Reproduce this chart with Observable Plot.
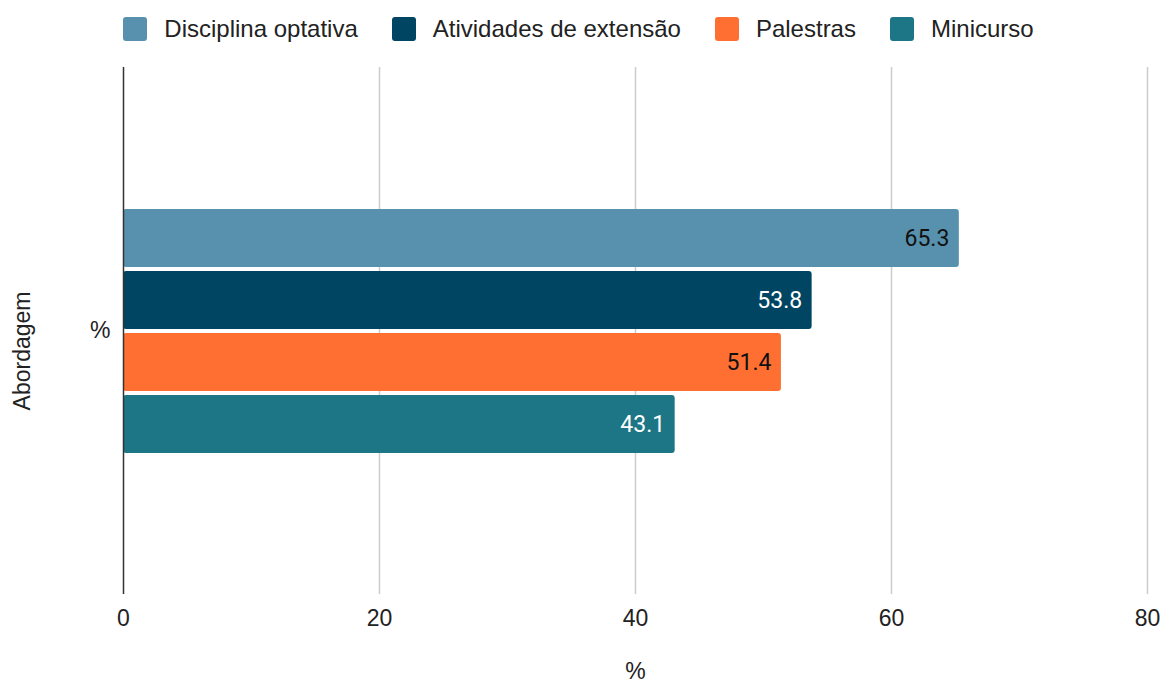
<!DOCTYPE html>
<html>
<head>
<meta charset="utf-8">
<script src="https://cdn.jsdelivr.net/npm/d3@7"></script>
<script src="https://cdn.jsdelivr.net/npm/@observablehq/plot@0.6"></script>
<style>
  body { margin: 0; background: #fff; width: 1163px; height: 686px; overflow: hidden; }
  #legend { height: 58px; display: flex; justify-content: center; align-items: center; gap: 34px;
    font: 24px "Liberation Sans", Arial, sans-serif; color: #222; padding-right: 6px; box-sizing: border-box; }
  .item { display: flex; align-items: center; }
  .sw { width: 24px; height: 24px; border-radius: 3px; margin-right: 17px; }
  svg { display: block; }
</style>
</head>
<body>
<div id="legend"></div>
<div id="chart"></div>
<script>
// Data
const categories = ["%"];
const series = ["Disciplina optativa", "Atividades de extensão", "Palestras", "Minicurso"];
const values = [65.3, 53.8, 51.4, 43.1];
const xTicks = [0, 20, 40, 60, 80];
const gridTicks = [20, 40, 60, 80];
const yTitle = ["Abordagem"];

const colors = ["#5891ad", "#004561", "#ff6f31", "#1c7685"];

const data = series.map((s, i) => ({category: categories[0], serie: s, value: values[i]}));

// Legend
const legend = document.getElementById("legend");
series.forEach((s, i) => {
  const it = document.createElement("div");
  it.className = "item";
  const sw = document.createElement("div");
  sw.className = "sw";
  sw.style.background = colors[i];
  const tx = document.createElement("span");
  tx.textContent = s;
  it.appendChild(sw);
  it.appendChild(tx);
  legend.appendChild(it);
});

const colorOf = s => colors[series.indexOf(s)];
const labelFill = d => d3.lab(colorOf(d.serie)).l < 50 ? "#ffffff" : "#111111";

const chart = Plot.plot({
  width: 1163,
  height: 628,
  marginTop: 9,
  marginBottom: 92,
  marginLeft: 123,
  marginRight: 16,
  style: {fontFamily: "'Liberation Sans', Arial, sans-serif", fontSize: "23px", color: "#222", background: "#fff"},
  x: {domain: [0, 80], ticks: xTicks, tickSize: 0, tickPadding: 15, label: "%", labelAnchor: "center", labelArrow: "none", labelOffset: 84},
  y: {domain: series, axis: null, paddingInner: 0.07, paddingOuter: 2.25},
  fy: {domain: categories, padding: 0, axis: "left", tickSize: 0, tickPadding: 13, label: null},
  color: {domain: series, range: colors},
  marks: [
    Plot.ruleX(gridTicks, {stroke: "#cccccc", strokeWidth: 1.5}),
    Plot.barX(data, {x: "value", y: "serie", fy: "category", fill: "serie", rx: 3}),
    Plot.ruleX([0], {stroke: "#333333", strokeWidth: 1.5}),
    Plot.text(data, {x: "value", y: "serie", fy: "category", text: d => d.value.toFixed(1), textAnchor: "end", dx: -10,
      fill: labelFill, fontSize: 23, fontFamily: "Roboto, sans-serif"}),
    Plot.text(yTitle, {text: d => d, frameAnchor: "left", rotate: -90, textAnchor: "middle", dx: -101, dy: 20,
      fontSize: 23, fill: "#222"})
  ]
});
document.getElementById("chart").appendChild(chart);
</script>
</body>
</html>
